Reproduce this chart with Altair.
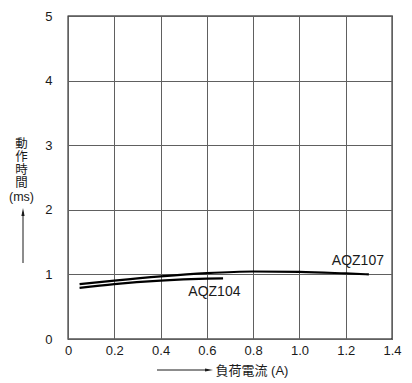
import altair as alt
import pandas as pd

# ---- data ----
aqz107_x = [0.05, 0.2, 0.4, 0.6, 0.8, 1.0, 1.2, 1.3]
aqz107_y = [0.85, 0.905, 0.97, 1.02, 1.045, 1.04, 1.015, 1.0]

aqz104_x = [0.05, 0.2, 0.4, 0.6, 0.67]
aqz104_y = [0.79, 0.85, 0.905, 0.935, 0.94]

label_names = ["AQZ107", "AQZ104"]
label_x = [1.14, 0.52]
label_y = [1.215, 0.72]

x_ticks = [0, 0.2, 0.4, 0.6, 0.8, 1.0, 1.2, 1.4]
y_ticks = [0, 1, 2, 3, 4, 5]

y_title = ["動", "作", "時", "間", "(ms)"]
x_title = "負荷電流 (A)"

FONT = "Liberation Sans, Arial, Helvetica, Noto Sans CJK JP, sans-serif"
INK = "#1a1a1a"

curves = pd.concat([
    pd.DataFrame({"x": aqz107_x, "y": aqz107_y, "series": "AQZ107"}),
    pd.DataFrame({"x": aqz104_x, "y": aqz104_y, "series": "AQZ104"}),
])
labels = pd.DataFrame({"name": label_names, "x": label_x, "y": label_y})

x_enc = alt.X(
    "x:Q",
    scale=alt.Scale(domain=[0, 1.4], nice=False, zero=False),
    axis=alt.Axis(
        values=x_ticks,
        labelExpr="datum.value == 0 ? '0' : format(datum.value, '.1f')",
        ticks=False, domain=False, labelPadding=5,
        labelFontSize=13, labelColor=INK, labelFont=FONT,
        grid=True, gridColor="#606060", gridWidth=1,
        title=x_title, titleFont=FONT, titleFontSize=13, titleFontWeight="normal",
        titleColor=INK, titleAlign="left", titleBaseline="middle",
        titleX=147, titleY=31, titleAnchor="start",
        labelFlush=False,
    ),
)
y_enc = alt.Y(
    "y:Q",
    scale=alt.Scale(domain=[0, 5], nice=False),
    axis=alt.Axis(
        values=y_ticks, format="d",
        ticks=False, domain=False, labelPadding=16,
        labelFontSize=13, labelColor=INK, labelFont=FONT,
        grid=True, gridColor="#606060", gridWidth=1,
        title=y_title, titleFont=FONT, titleFontSize=12.5, titleFontWeight="normal",
        titleColor=INK, titleAngle=0, titleAlign="center", titleBaseline="top",
        titleX=-47, titleY=121, titleLineHeight=13.3,
        labelFlush=False,
    ),
)

lines = alt.Chart(curves).mark_line(
    color="black", strokeWidth=2.2, interpolate="monotone"
).encode(x=x_enc, y=y_enc, detail="series:N")

text = alt.Chart(labels).mark_text(
    align="left", baseline="middle", fontSize=14, font=FONT, color=INK
).encode(x="x:Q", y="y:Q", text="name:N")

# arrow decorations of the axis titles
y_arrow = alt.Chart(pd.DataFrame({"a": [0]})).mark_rule(
    color=INK, strokeWidth=1
).encode(x=alt.value(-45), y=alt.value(196), y2=alt.value(247))
y_head = alt.Chart(pd.DataFrame({"a": [0]})).mark_point(
    shape="M0,-1L-0.4,1L0.4,1Z", filled=True, color=INK, opacity=1, size=64
).encode(x=alt.value(-45), y=alt.value(196))

x_arrow = alt.Chart(pd.DataFrame({"a": [0]})).mark_rule(
    color=INK, strokeWidth=1
).encode(x=alt.value(89), x2=alt.value(140), y=alt.value(354))
x_head = alt.Chart(pd.DataFrame({"a": [0]})).mark_point(
    shape="M1,0L-1,-0.4L-1,0.4Z", filled=True, color=INK, opacity=1, size=64
).encode(x=alt.value(141), y=alt.value(354))

chart = alt.layer(lines, text, y_arrow, y_head, x_arrow, x_head).properties(
    width=324, height=323,
    autosize=alt.AutoSizeParams(type="none"),
    padding={"left": 60, "top": 8, "right": 12, "bottom": 44},
    background="white",
).configure_view(
    stroke="black", strokeWidth=1.3
)

chart.save("out.html", embed_options={"renderer": "svg", "actions": False})
